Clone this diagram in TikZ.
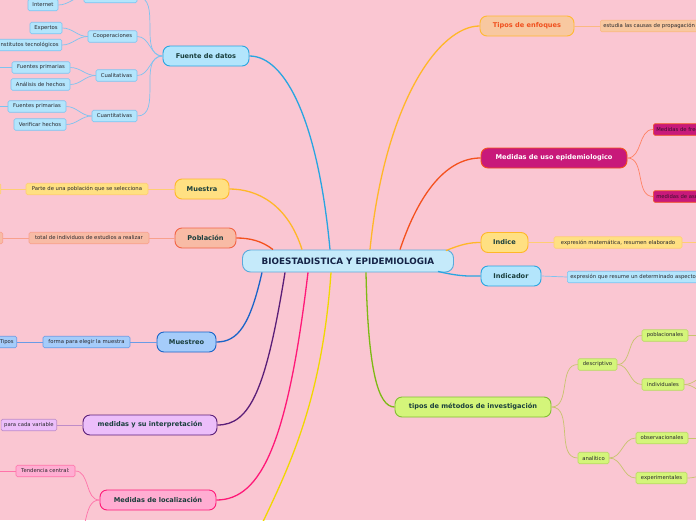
\documentclass[tikz,border=0pt]{standalone}
\usepackage{fontspec}
\setmainfont{DejaVu Sans}
\usetikzlibrary{positioning}

\definecolor{bgpink}{RGB}{250,198,210}
\definecolor{biofill}{RGB}{197,234,250}
\definecolor{biodraw}{RGB}{90,170,220}
\definecolor{biotext}{RGB}{20,35,70}
\definecolor{maintext}{RGB}{25,62,60}
\definecolor{subtext}{RGB}{40,40,45}
\definecolor{bluefill}{RGB}{179,229,252}
\definecolor{bluedraw}{RGB}{40,165,225}
\definecolor{bluesub}{RGB}{125,195,240}
\definecolor{yelfill}{RGB}{255,224,130}
\definecolor{yeldraw}{RGB}{255,183,40}
\definecolor{yelsub}{RGB}{255,205,115}
\definecolor{salfill}{RGB}{248,187,165}
\definecolor{saldraw}{RGB}{242,100,70}
\definecolor{salsub}{RGB}{248,160,140}
\definecolor{mbluefill}{RGB}{165,204,250}
\definecolor{mbluedraw}{RGB}{25,100,200}
\definecolor{mbluesub}{RGB}{105,155,230}
\definecolor{lavfill}{RGB}{236,190,250}
\definecolor{lavdraw}{RGB}{90,30,120}
\definecolor{lavsub}{RGB}{190,140,200}
\definecolor{pinkfill}{RGB}{255,173,210}
\definecolor{pinkdraw}{RGB}{255,25,120}
\definecolor{pinksub}{RGB}{255,115,170}
\definecolor{peachfill}{RGB}{248,200,160}
\definecolor{peachdraw}{RGB}{255,185,50}
\definecolor{peachsub}{RGB}{250,185,130}
\definecolor{peachtext}{RGB}{240,80,30}
\definecolor{magfill}{RGB}{200,25,122}
\definecolor{magdraw}{RGB}{244,81,30}
\definecolor{magsub}{RGB}{255,130,100}
\definecolor{magtext}{RGB}{60,15,45}
\definecolor{limefill}{RGB}{212,245,122}
\definecolor{limedraw}{RGB}{130,190,50}
\definecolor{limesub}{RGB}{185,215,100}
\definecolor{limelink}{RGB}{200,195,110}
\definecolor{greenlink}{RGB}{125,185,20}
\definecolor{goldlink}{RGB}{240,215,0}

\tikzset{
	mainnode/.style={rounded corners=7pt, minimum height=20pt, inner xsep=11pt, inner ysep=0pt, line width=0.9pt, font=\fontsize{6.6}{7}\selectfont\bfseries, text=maintext},
	subnode/.style={rounded corners=1.5pt, minimum height=11.5pt, inner xsep=3pt, inner ysep=0pt, line width=0.6pt, font=\fontsize{5.3}{6}\selectfont, text=subtext},
	mainlink/.style={line width=1.3pt},
	sublink/.style={line width=0.7pt},
}

\begin{document}
\begin{tikzpicture}[x=1pt,y=-1pt]
		\fill[bgpink] (0,0) rectangle (696,520);
		\useasboundingbox (0,0) rectangle (696,520);
		\clip (0,0) rectangle (696,520);

		\node[mainnode, fill=biofill, draw=biodraw, text=biotext, minimum width=211pt, minimum height=22pt, rounded corners=8pt, font=\fontsize{8.8}{9}\selectfont\bfseries] (bio) at (348,261) {BIOESTADISTICA Y EPIDEMIOLOGIA};

		\node[mainnode, fill=bluefill, draw=bluedraw, minimum width=86pt] (fuente) at (206,56) {Fuente de datos};
		\node[mainnode, fill=yelfill, draw=yeldraw, minimum width=54pt] (muestra) at (202,189) {Muestra};
		\node[mainnode, fill=salfill, draw=saldraw, minimum width=61pt] (poblacion) at (205.5,238) {Población};
		\node[mainnode, fill=mbluefill, draw=mbluedraw, minimum width=59pt] (muestreo) at (186.5,342) {Muestreo};
		\node[mainnode, fill=lavfill, draw=lavdraw, minimum width=134pt] (interp) at (150,425) {medidas y su interpretación};
		\node[mainnode, fill=pinkfill, draw=pinkdraw, minimum width=116pt] (localiz) at (158,500) {Medidas de localización};
		\node[mainnode, fill=peachfill, draw=peachdraw, text=peachtext, minimum width=94pt] (enfoques) at (527,26) {Tipos de enfoques};
		\node[mainnode, fill=magfill, draw=magdraw, text=white, minimum width=146pt] (uso) at (554,158) {Medidas de uso epidemiologico};
		\node[mainnode, fill=yelfill, draw=yeldraw, minimum width=47pt] (indice) at (504.5,242.5) {Indice};
		\node[mainnode, fill=bluefill, draw=bluedraw, minimum width=60pt] (indicador) at (511,276) {Indicador};
		\node[mainnode, fill=limefill, draw=limedraw, minimum width=156pt] (metodos) at (473,407) {tipos de métodos de investigación};

		\draw[mainlink, bluedraw] ([xshift=-18pt]bio.north) .. controls (318,120) and (285,56) .. (fuente.east);
		\draw[mainlink, yeldraw] ([xshift=-46pt]bio.north) .. controls (288,205) and (258,189) .. (muestra.east);
		\draw[mainlink, magdraw] ([xshift=-75pt]bio.north) .. controls (262,241) and (250,238) .. (poblacion.east);
		\draw[mainlink, mbluedraw] ([xshift=-86pt]bio.south) .. controls (250,325) and (238,342) .. (muestreo.east);
		\draw[mainlink, lavdraw] ([xshift=-63pt]bio.south) .. controls (266,390) and (250,425) .. (interp.east);
		\draw[mainlink, pinkdraw] ([xshift=-40pt]bio.south) .. controls (288,440) and (262,500) .. (localiz.east);
		\coordinate (abajo) at (260,528);
		\draw[mainlink, goldlink] ([xshift=-17pt]bio.south) .. controls (322,400) and (290,465) .. (abajo);
		\draw[mainlink, yeldraw] ([xshift=22pt]bio.north) .. controls (385,100) and (440,26) .. (enfoques.west);
		\draw[mainlink, magdraw] ([xshift=52pt]bio.north) .. controls (420,190) and (448,158) .. (uso.west);
		\draw[mainlink, yeldraw] ([xshift=98pt,yshift=-1pt]bio.north) .. controls (462,244) and (470,242.5) .. (indice.west);
		\draw[mainlink, bluedraw] ([xshift=90pt,yshift=1pt]bio.south) .. controls (462,277) and (470,276) .. (indicador.west);
		\draw[mainlink, greenlink] ([xshift=18pt]bio.south) .. controls (368,370) and (378,407) .. (metodos.west);

		\node[subnode, fill=bluefill, draw=bluesub, minimum width=53pt] (arriba) at (110.5,-3) {};
		\node[subnode, fill=bluefill, draw=bluesub, minimum width=30pt] (internet) at (43,5) {Internet};
		\node[subnode, fill=bluefill, draw=bluesub, minimum width=49pt] (coop) at (112.5,36.5) {Cooperaciones};
		\node[subnode, fill=bluefill, draw=bluesub, minimum width=32pt] (expertos) at (46,28) {Expertos};
		\node[subnode, fill=bluefill, draw=bluesub, anchor=east] (institutos) at (62,45) {Institutos tecnológicos};
		\node[subnode, fill=bluefill, draw=bluesub, minimum width=41pt] (cuali) at (116.5,75.5) {Cualitativas};
		\node[subnode, fill=bluefill, draw=bluesub, minimum width=58pt] (fprim1) at (41,67.5) {Fuentes primarias};
		\node[subnode, fill=bluefill, draw=bluesub, minimum width=59pt] (analisis) at (40.5,84.5) {Análisis de hechos};
		\node[subnode, fill=bluefill, draw=bluesub, minimum width=45pt] (cuanti) at (114.5,116) {Cuantitativas};
		\node[subnode, fill=bluefill, draw=bluesub, minimum width=58pt] (fprim2) at (37,106.5) {Fuentes primarias};
		\node[subnode, fill=bluefill, draw=bluesub, minimum width=52pt] (verificar) at (40,124.5) {Verificar hechos};
		\coordinate (fprim1x) at (-6,67.5);
		\coordinate (fprim2x) at (-6,106.5);

		\draw[sublink, bluesub] (fuente.west) to[out=180,in=0] (arriba.east);
		\draw[sublink, bluesub] (fuente.west) to[out=180,in=0] (coop.east);
		\draw[sublink, bluesub] (fuente.west) to[out=180,in=0] (cuali.east);
		\draw[sublink, bluesub] (fuente.west) to[out=180,in=0] (cuanti.east);
		\draw[sublink, bluesub] (arriba.west) to[out=180,in=0] (internet.east);
		\draw[sublink, bluesub] (coop.west) to[out=180,in=0] (expertos.east);
		\draw[sublink, bluesub] (coop.west) to[out=180,in=0] (institutos.east);
		\draw[sublink, bluesub] (cuali.west) to[out=180,in=0] (fprim1.east);
		\draw[sublink, bluesub] (cuali.west) to[out=180,in=0] (analisis.east);
		\draw[sublink, bluesub] (cuanti.west) to[out=180,in=0] (fprim2.east);
		\draw[sublink, bluesub] (cuanti.west) to[out=180,in=0] (verificar.east);
		\draw[sublink, bluesub] (fprim1.west) -- (fprim1x);
		\draw[sublink, bluesub] (fprim2.west) -- (fprim2x);

		\node[subnode, fill=yelfill, draw=yelsub, minimum width=122pt] (parte) at (87,189) {Parte de una población que se selecciona};
		\node[subnode, fill=yelfill, draw=yelsub, minimum width=20pt, anchor=east] (partex) at (1,189) {};
		\draw[sublink, yelsub] (muestra.west) -- (parte.east);
		\draw[sublink, yelsub] (parte.west) -- (partex.east);

		\node[subnode, fill=salfill, draw=salsub, minimum width=120pt] (total) at (89,238) {total de individuos de estudios a realizar};
		\node[subnode, fill=salfill, draw=salsub, minimum width=20pt, anchor=east] (totalx) at (3,238) {};
		\draw[sublink, salsub] (poblacion.west) -- (total.east);
		\draw[sublink, salsub] (total.west) -- (totalx.east);

		\node[subnode, fill=mbluefill, draw=mbluesub, minimum width=87pt] (forma) at (86.5,342) {forma para elegir la muestra};
		\node[subnode, fill=mbluefill, draw=mbluesub, anchor=east] (tipos) at (17,342) {Tipos};
		\draw[sublink, mbluesub] (muestreo.west) -- (forma.east);
		\draw[sublink, mbluesub] (forma.west) -- (tipos.east);

		\node[subnode, fill=lavfill, draw=lavsub, anchor=east] (variable) at (57,425) {para cada variable};
		\draw[sublink, lavsub] (interp.west) -- (variable.east);

		\node[subnode, fill=pinkfill, draw=pinksub, minimum width=59pt] (tendencia) at (45.5,471) {Tendencia central:};
		\coordinate (tendenciax) at (-6,471);
		\coordinate (localizx) at (72,538);
		\draw[sublink, pinksub] (localiz.west) to[out=180,in=0] (tendencia.east);
		\draw[sublink, pinksub] (localiz.west) to[out=180,in=0] (localizx);
		\draw[sublink, pinksub] (tendencia.west) -- (tendenciax);

		\node[subnode, fill=peachfill, draw=peachsub, anchor=west] (causas) at (600,26) {estudia las causas de propagación};
		\draw[sublink, peachsub] (enfoques.east) -- (causas.west);

		\node[subnode, fill=magfill, draw=magdraw, text=magtext, anchor=west] (frec) at (653,129.5) {Medidas de frecuencia};
		\node[subnode, fill=magfill, draw=magdraw, text=magtext, anchor=west] (asoc) at (653,196.5) {medidas de asociación};
		\draw[sublink, magsub] (uso.east) to[out=0,in=180] (frec.west);
		\draw[sublink, magsub] (uso.east) to[out=0,in=180] (asoc.west);

		\node[subnode, fill=yelfill, draw=yelsub, minimum width=128pt] (expr1) at (618,242.5) {expresión matemática, resumen elaborado};
		\coordinate (expr1x) at (702,242.5);
		\draw[sublink, yelsub] (indice.east) -- (expr1.west);
		\draw[sublink, yelsub] (expr1.east) -- (expr1x);

		\node[subnode, fill=bluefill, draw=bluesub, anchor=west] (expr2) at (567,277) {expresión que resume un determinado aspecto};
		\draw[sublink, bluesub] (indicador.east) -- (expr2.west);

		\node[subnode, fill=limefill, draw=limesub, minimum width=39pt] (descr) at (597.5,364.5) {descriptivo};
		\node[subnode, fill=limefill, draw=limesub, minimum width=31pt] (analit) at (593.5,458) {analítico};
		\node[subnode, fill=limefill, draw=limesub, minimum width=46pt] (poblac) at (665,335.5) {poblacionales};
		\node[subnode, fill=limefill, draw=limesub, minimum width=42pt] (indiv) at (663,384.5) {individuales};
		\node[subnode, fill=limefill, draw=limesub, minimum width=52pt] (observ) at (662,438) {observacionales};
		\node[subnode, fill=limefill, draw=limesub, minimum width=51pt] (experim) at (661.5,478) {experimentales};
		\coordinate (poblacx) at (702,335.5);
		\coordinate (indivx1) at (708,376);
		\coordinate (indivx2) at (708,393);
		\coordinate (observx) at (702,438);
		\coordinate (experimx) at (708,475);
		\draw[sublink, limelink] (metodos.east) to[out=0,in=180] (descr.west);
		\draw[sublink, limelink] (metodos.east) to[out=0,in=180] (analit.west);
		\draw[sublink, limelink] (descr.east) to[out=0,in=180] (poblac.west);
		\draw[sublink, limelink] (descr.east) to[out=0,in=180] (indiv.west);
		\draw[sublink, limelink] (analit.east) to[out=0,in=180] (observ.west);
		\draw[sublink, limelink] (analit.east) to[out=0,in=180] (experim.west);
		\draw[sublink, limelink] (poblac.east) -- (poblacx);
		\draw[sublink, limelink] (indiv.east) to[out=0,in=180] (indivx1);
		\draw[sublink, limelink] (indiv.east) to[out=0,in=180] (indivx2);
		\draw[sublink, limelink] (observ.east) -- (observx);
		\draw[sublink, limelink] (experim.east) to[out=0,in=180] (experimx);
	\end{tikzpicture}
\end{document}
